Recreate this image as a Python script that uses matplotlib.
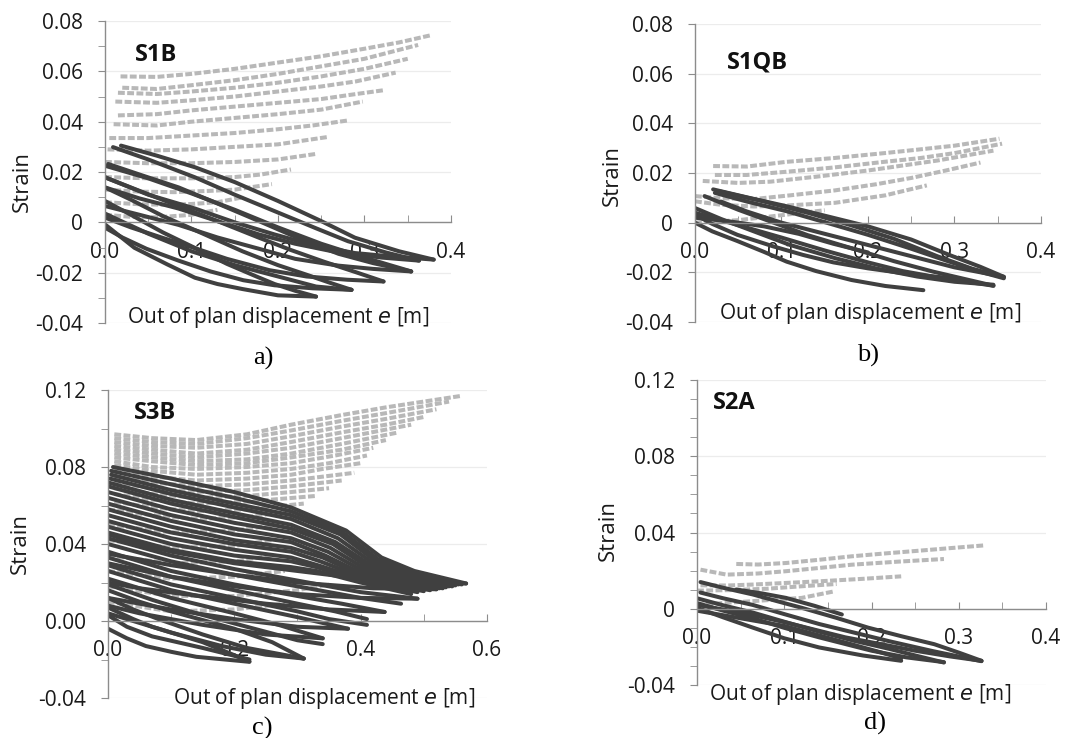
import matplotlib
matplotlib.use('Agg')
import matplotlib.pyplot as plt
from matplotlib.ticker import MultipleLocator, FixedLocator

# ---- S1B : strain vs out of plane displacement ----
s1b_gray = [
    [(0.018, 0.058), (0.06, 0.0578), (0.10, 0.059), (0.15, 0.061), (0.20, 0.0635), (0.25, 0.066), (0.30, 0.069), (0.34, 0.0715), (0.376, 0.0743)],
    [(0.020, 0.0535), (0.06, 0.053), (0.10, 0.0545), (0.15, 0.0565), (0.20, 0.059), (0.25, 0.062), (0.30, 0.065), (0.362, 0.0705)],
    [(0.015, 0.0515), (0.06, 0.051), (0.10, 0.052), (0.15, 0.0535), (0.20, 0.0555), (0.25, 0.058), (0.30, 0.061), (0.350, 0.065)],
    [(0.012, 0.048), (0.06, 0.0475), (0.10, 0.0485), (0.15, 0.050), (0.20, 0.052), (0.25, 0.054), (0.29, 0.056), (0.336, 0.0595)],
    [(0.015, 0.0425), (0.06, 0.043), (0.10, 0.0445), (0.15, 0.046), (0.20, 0.0475), (0.25, 0.049), (0.28, 0.0505), (0.322, 0.0525)],
    [(0.010, 0.039), (0.06, 0.0385), (0.10, 0.040), (0.15, 0.0415), (0.20, 0.043), (0.25, 0.0448), (0.298, 0.048)],
    [(0.005, 0.0335), (0.05, 0.0335), (0.10, 0.0345), (0.15, 0.0355), (0.20, 0.037), (0.24, 0.0385), (0.281, 0.0405)],
    [(0.003, 0.029), (0.05, 0.0285), (0.10, 0.029), (0.15, 0.030), (0.20, 0.031), (0.259, 0.034)],
    [(0.0, 0.024), (0.05, 0.0235), (0.10, 0.0235), (0.15, 0.024), (0.20, 0.025), (0.244, 0.0272)],
    [(0.0, 0.018), (0.05, 0.0175), (0.10, 0.0175), (0.15, 0.018), (0.18, 0.019), (0.215, 0.021)],
    [(0.0, 0.013), (0.04, 0.0122), (0.08, 0.012), (0.12, 0.0125), (0.15, 0.013), (0.193, 0.0152)],
    [(0.0, 0.008), (0.04, 0.0072), (0.07, 0.007), (0.10, 0.0073), (0.13, 0.008), (0.160, 0.010)],
    [(0.0, 0.003), (0.03, 0.0022), (0.06, 0.002), (0.10, 0.003), (0.130, 0.005)],
]
s1b_dark = [
    [(0.0185, 0.0305), (0.06, 0.0265), (0.104, 0.0219), (0.15, 0.016), (0.20, 0.0085), (0.25, 0.0005), (0.289, -0.0061), (0.34, -0.0115), (0.380, -0.0148)],
    [(0.0093, 0.0299), (0.05, 0.025), (0.104, 0.0179), (0.15, 0.011), (0.20, 0.0039), (0.245, -0.0025), (0.281, -0.0075), (0.325, -0.012), (0.363, -0.0152)],
    [(0.0037, 0.0232), (0.04, 0.019), (0.085, 0.0139), (0.13, 0.0075), (0.178, 0.0005), (0.225, -0.0065), (0.270, -0.0125), (0.31, -0.0162), (0.354, -0.0195)],
    [(0.0, 0.0179), (0.04, 0.0125), (0.085, 0.0065), (0.13, 0.0005), (0.178, -0.0061), (0.215, -0.011), (0.252, -0.0155), (0.29, -0.0198), (0.322, -0.0235)],
    [(0.0, 0.0139), (0.03, 0.009), (0.067, 0.0025), (0.11, -0.004), (0.159, -0.0115), (0.20, -0.017), (0.233, -0.0208), (0.26, -0.024), (0.285, -0.0268)],
    [(0.0, 0.0085), (0.03, 0.003), (0.067, -0.004), (0.10, -0.0095), (0.141, -0.0165), (0.175, -0.0215), (0.196, -0.0245), (0.22, -0.0272), (0.244, -0.0295)],
    [(0.0, 0.0225), (0.05, 0.0175), (0.10, 0.0115), (0.15, 0.005), (0.20, -0.002), (0.25, -0.0085), (0.30, -0.014), (0.354, -0.0195)],
    [(0.0, 0.0035), (0.05, -0.0045), (0.10, -0.0115), (0.15, -0.017), (0.20, -0.0215), (0.244, -0.0255), (0.285, -0.0268)],
    [(0.380, -0.0148), (0.33, -0.0135), (0.289, -0.0122), (0.24, -0.009), (0.196, -0.0048), (0.15, 0.0), (0.104, 0.0055), (0.05, 0.011), (0.0, 0.0179)],
    [(0.363, -0.0152), (0.32, -0.014), (0.270, -0.012), (0.22, -0.0085), (0.178, -0.0048), (0.13, 0.0005), (0.085, 0.0055), (0.04, 0.0095), (0.0, 0.0139)],
    [(0.354, -0.0195), (0.31, -0.0185), (0.270, -0.0172), (0.22, -0.0145), (0.178, -0.0105), (0.13, -0.006), (0.085, -0.001), (0.04, 0.003), (0.0, 0.0065)],
    [(0.322, -0.0235), (0.28, -0.0228), (0.233, -0.0215), (0.19, -0.019), (0.141, -0.0145), (0.10, -0.0098), (0.067, -0.0062), (0.03, -0.002), (0.0, 0.0019)],
    [(0.285, -0.0268), (0.24, -0.0262), (0.196, -0.025), (0.16, -0.023), (0.122, -0.0195), (0.085, -0.0152), (0.048, -0.0105), (0.02, -0.006), (0.0, -0.0021)],
    [(0.244, -0.0295), (0.20, -0.029), (0.159, -0.0265), (0.13, -0.0245), (0.104, -0.022), (0.072, -0.0167), (0.034, -0.0101), (0.0, -0.0008)],
]

# ---- S1QB ----
s1qb_gray = [
    [(0.021, 0.0228), (0.06, 0.0226), (0.106, 0.0245), (0.16, 0.026), (0.219, 0.028), (0.26, 0.0295), (0.300, 0.031), (0.352, 0.0338)],
    [(0.023, 0.0192), (0.06, 0.0192), (0.106, 0.0205), (0.16, 0.0222), (0.219, 0.0245), (0.26, 0.026), (0.300, 0.028), (0.355, 0.0318)],
    [(0.009, 0.0168), (0.05, 0.016), (0.087, 0.0165), (0.14, 0.0185), (0.200, 0.021), (0.24, 0.023), (0.280, 0.025), (0.345, 0.029)],
    [(0.0, 0.0107), (0.03, 0.0098), (0.068, 0.0095), (0.11, 0.011), (0.162, 0.013), (0.21, 0.0155), (0.250, 0.018), (0.290, 0.021), (0.330, 0.0242)],
    [(0.0, 0.0086), (0.03, 0.0072), (0.068, 0.0065), (0.11, 0.007), (0.162, 0.008), (0.220, 0.011), (0.268, 0.015)],
    [(0.0, 0.0), (0.05, 0.001), (0.10, 0.003), (0.150, 0.005)],
]
s1qb_dark = [
    [(0.021, 0.0134), (0.06, 0.0102), (0.106, 0.0066), (0.15, 0.0028), (0.200, -0.0015), (0.25, -0.0068), (0.294, -0.013), (0.33, -0.0178), (0.357, -0.0218)],
    [(0.023, 0.012), (0.06, 0.0085), (0.106, 0.0046), (0.15, 0.0002), (0.200, -0.0049), (0.25, -0.0105), (0.294, -0.0157), (0.33, -0.0198), (0.357, -0.0224)],
    [(0.030, 0.0125), (0.08, 0.0085), (0.13, 0.004), (0.18, -0.001), (0.23, -0.0065), (0.28, -0.0135), (0.32, -0.0185), (0.357, -0.022)],
    [(0.011, 0.0107), (0.05, 0.0052), (0.087, 0.0005), (0.13, -0.005), (0.181, -0.0103), (0.23, -0.0155), (0.275, -0.0197), (0.345, -0.0254)],
    [(0.0, 0.0059), (0.03, 0.0015), (0.068, -0.0035), (0.11, -0.009), (0.162, -0.0143), (0.21, -0.0185), (0.257, -0.0217), (0.30, -0.0238), (0.345, -0.025)],
    [(0.0, 0.0032), (0.02, -0.0005), (0.049, -0.0049), (0.09, -0.0095), (0.125, -0.013), (0.160, -0.016), (0.200, -0.0184), (0.250, -0.0208), (0.300, -0.0225)],
    [(0.0, 0.0), (0.02, -0.0035), (0.049, -0.0074), (0.08, -0.0118), (0.106, -0.0157), (0.14, -0.0195), (0.181, -0.0231), (0.22, -0.0255), (0.264, -0.0272)],
    [(0.357, -0.0218), (0.300, -0.018), (0.250, -0.0135), (0.200, -0.009), (0.150, -0.0045), (0.100, 0.0), (0.060, 0.0045), (0.030, 0.0085)],
    [(0.345, -0.0254), (0.280, -0.022), (0.240, -0.0195), (0.200, -0.016), (0.150, -0.0112), (0.100, -0.006), (0.050, -0.001), (0.0, 0.004)],
    [(0.0, 0.002), (0.04, 0.0005), (0.08, -0.0015), (0.12, -0.0045), (0.16, -0.0085), (0.20, -0.012)],
]

# ---- S3B ----
s3b_gray = [
    [(0.01, 0.097), (0.07, 0.095), (0.14, 0.094), (0.22, 0.097), (0.29, 0.102), (0.37, 0.107), (0.44, 0.111), (0.50, 0.114), (0.56, 0.117)],
    [(0.01, 0.095), (0.07, 0.093), (0.14, 0.092), (0.22, 0.095), (0.29, 0.099), (0.37, 0.104), (0.44, 0.108), (0.54, 0.114)],
    [(0.01, 0.093), (0.07, 0.091), (0.14, 0.090), (0.22, 0.092), (0.29, 0.096), (0.37, 0.101), (0.44, 0.105), (0.52, 0.110)],
    [(0.01, 0.091), (0.07, 0.089), (0.14, 0.087), (0.22, 0.089), (0.29, 0.093), (0.37, 0.098), (0.44, 0.102), (0.50, 0.106)],
    [(0.01, 0.089), (0.07, 0.087), (0.14, 0.085), (0.22, 0.087), (0.29, 0.090), (0.37, 0.095), (0.48, 0.102)],
    [(0.01, 0.087), (0.07, 0.085), (0.14, 0.083), (0.22, 0.084), (0.29, 0.087), (0.37, 0.092), (0.46, 0.098)],
    [(0.01, 0.085), (0.07, 0.083), (0.14, 0.081), (0.22, 0.082), (0.29, 0.085), (0.37, 0.089), (0.44, 0.094)],
    [(0.01, 0.083), (0.07, 0.080), (0.14, 0.079), (0.22, 0.080), (0.29, 0.082), (0.36, 0.086), (0.42, 0.090)],
    [(0.01, 0.081), (0.07, 0.078), (0.14, 0.076), (0.22, 0.077), (0.29, 0.079), (0.35, 0.082), (0.41, 0.086)],
    [(0.01, 0.078), (0.07, 0.075), (0.14, 0.073), (0.22, 0.074), (0.29, 0.076), (0.34, 0.079), (0.40, 0.082)],
    [(0.01, 0.075), (0.07, 0.072), (0.14, 0.070), (0.22, 0.071), (0.29, 0.073), (0.39, 0.077)],
    [(0.01, 0.072), (0.07, 0.069), (0.14, 0.067), (0.22, 0.068), (0.29, 0.070), (0.37, 0.073)],
    [(0.01, 0.069), (0.07, 0.066), (0.14, 0.064), (0.22, 0.065), (0.29, 0.067), (0.35, 0.069)],
    [(0.01, 0.066), (0.07, 0.063), (0.14, 0.061), (0.22, 0.062), (0.33, 0.065)],
    [(0.01, 0.062), (0.07, 0.059), (0.14, 0.057), (0.22, 0.058), (0.31, 0.061)],
    [(0.0, 0.058), (0.07, 0.055), (0.14, 0.053), (0.22, 0.054), (0.29, 0.057)],
    [(0.0, 0.050), (0.10, 0.046), (0.20, 0.047), (0.27, 0.050)],
    [(0.0, 0.042), (0.10, 0.038), (0.20, 0.039), (0.26, 0.042)],
    [(0.0, 0.034), (0.10, 0.030), (0.20, 0.031), (0.26, 0.034)],
    [(0.0, 0.026), (0.10, 0.022), (0.20, 0.023), (0.28, 0.026)],
    [(0.0, 0.018), (0.10, 0.013), (0.20, 0.013), (0.30, 0.016), (0.35, 0.019)],
    [(0.0, 0.010), (0.10, 0.005), (0.20, 0.006), (0.28, 0.009)],
]
s3b_dark = [
    [(0.008, 0.080), (0.10, 0.074), (0.20, 0.067), (0.29, 0.059), (0.377, 0.047), (0.433, 0.033), (0.485, 0.026), (0.567, 0.0195)],
    [(0.005, 0.078), (0.10, 0.071), (0.20, 0.064), (0.29, 0.057), (0.372, 0.046), (0.428, 0.032), (0.48, 0.025), (0.560, 0.019)],
    [(0.005, 0.076), (0.10, 0.068), (0.20, 0.061), (0.29, 0.055), (0.368, 0.045), (0.424, 0.031), (0.48, 0.024), (0.555, 0.019)],
    [(0.003, 0.074), (0.10, 0.066), (0.20, 0.059), (0.29, 0.053), (0.364, 0.043), (0.420, 0.030), (0.475, 0.023), (0.550, 0.0185)],
    [(0.0, 0.072), (0.10, 0.063), (0.20, 0.056), (0.29, 0.050), (0.360, 0.041), (0.416, 0.029), (0.475, 0.023), (0.545, 0.018)],
    [(0.0, 0.070), (0.10, 0.061), (0.20, 0.054), (0.29, 0.048), (0.356, 0.040), (0.412, 0.028), (0.47, 0.022), (0.540, 0.018)],
    [(0.0, 0.067), (0.10, 0.058), (0.20, 0.051), (0.29, 0.046), (0.352, 0.038), (0.408, 0.027), (0.47, 0.021), (0.535, 0.0175)],
    [(0.0, 0.064), (0.10, 0.055), (0.20, 0.048), (0.29, 0.043), (0.348, 0.036), (0.404, 0.026), (0.465, 0.021), (0.530, 0.017)],
    [(0.0, 0.061), (0.10, 0.052), (0.20, 0.045), (0.29, 0.041), (0.344, 0.034), (0.400, 0.025), (0.46, 0.020), (0.525, 0.017)],
    [(0.0, 0.058), (0.10, 0.049), (0.20, 0.042), (0.29, 0.038), (0.340, 0.033), (0.400, 0.024), (0.520, 0.0165)],
    [(0.0, 0.055), (0.10, 0.046), (0.20, 0.040), (0.29, 0.036), (0.336, 0.031), (0.400, 0.023), (0.510, 0.016)],
    [(0.0, 0.052), (0.10, 0.043), (0.20, 0.037), (0.29, 0.033), (0.332, 0.029), (0.400, 0.022), (0.500, 0.0155)],
    [(0.0, 0.049), (0.10, 0.040), (0.20, 0.034), (0.29, 0.031), (0.330, 0.028), (0.400, 0.021), (0.490, 0.015)],
    [(0.0, 0.046), (0.10, 0.037), (0.20, 0.031), (0.29, 0.028), (0.330, 0.026), (0.400, 0.020), (0.480, 0.014)],
    [(0.0, 0.043), (0.10, 0.034), (0.20, 0.027), (0.30, 0.021), (0.40, 0.015), (0.490, 0.0116)],
    [(0.0, 0.040), (0.10, 0.031), (0.20, 0.024), (0.30, 0.018), (0.40, 0.012), (0.464, 0.009)],
    [(0.0, 0.036), (0.10, 0.026), (0.20, 0.019), (0.30, 0.013), (0.37, 0.009), (0.438, 0.0047)],
    [(0.0, 0.033), (0.10, 0.023), (0.20, 0.016), (0.30, 0.009), (0.36, 0.005), (0.410, 0.001)],
    [(0.0, 0.029), (0.10, 0.019), (0.20, 0.012), (0.30, 0.005), (0.350, 0.001), (0.410, -0.002)],
    [(0.0, 0.026), (0.10, 0.016), (0.20, 0.009), (0.30, 0.002), (0.380, -0.004)],
    [(0.0, 0.022), (0.10, 0.012), (0.20, 0.004), (0.27, -0.002), (0.340, -0.009)],
    [(0.0, 0.019), (0.07, 0.011), (0.14, 0.004), (0.22, -0.003), (0.30, -0.010), (0.340, -0.012)],
    [(0.0, 0.016), (0.05, 0.010), (0.10, 0.005), (0.20, -0.004), (0.26, -0.011), (0.310, -0.0195)],
    [(0.0, 0.012), (0.04, 0.006), (0.08, 0.001), (0.15, -0.007), (0.22, -0.014), (0.310, -0.0195)],
    [(0.0, 0.007), (0.04, 0.001), (0.07, -0.003), (0.15, -0.011), (0.224, -0.021)],
    [(0.0, 0.003), (0.03, -0.003), (0.07, -0.008), (0.15, -0.014), (0.224, -0.020)],
    [(0.0, -0.004), (0.03, -0.009), (0.06, -0.013), (0.10, -0.016), (0.14, -0.0186), (0.224, -0.0212)],
    [(0.567, 0.0195), (0.50, 0.0195), (0.45, 0.020), (0.35, 0.024), (0.20, 0.030), (0.10, 0.036), (0.05, 0.040), (0.0, 0.045)],
    [(0.52, 0.0165), (0.42, 0.017), (0.30, 0.020), (0.20, 0.024), (0.10, 0.029), (0.05, 0.032), (0.0, 0.035)],
    [(0.49, 0.0116), (0.40, 0.012), (0.30, 0.014), (0.20, 0.018), (0.10, 0.023), (0.0, 0.030)],
    [(0.438, 0.0047), (0.35, 0.006), (0.25, 0.009), (0.12, 0.014), (0.05, 0.017), (0.0, 0.020)],
    [(0.38, -0.004), (0.30, -0.003), (0.20, 0.001), (0.10, 0.006), (0.0, 0.012)],
    [(0.34, -0.009), (0.25, -0.007), (0.15, -0.002), (0.05, 0.004), (0.0, 0.008)],
    [(0.31, -0.0195), (0.25, -0.0175), (0.18, -0.013), (0.10, -0.006), (0.04, 0.0), (0.0, 0.004)],
]

# ---- S2A ----
s2a_gray = [
    [(0.045, 0.0235), (0.07, 0.0232), (0.102, 0.024), (0.14, 0.0257), (0.177, 0.0275), (0.215, 0.029), (0.253, 0.0304), (0.29, 0.0318), (0.328, 0.0332)],
    [(0.004, 0.0205), (0.034, 0.0179), (0.07, 0.0185), (0.102, 0.0197), (0.14, 0.0214), (0.177, 0.0231), (0.23, 0.0247), (0.283, 0.0261)],
    [(0.004, 0.0123), (0.035, 0.0122), (0.064, 0.0127), (0.10, 0.0135), (0.140, 0.0144), (0.19, 0.0157), (0.234, 0.017)],
    [(0.0, 0.0095), (0.04, 0.0098), (0.08, 0.0105), (0.12, 0.0118), (0.16, 0.013)],
    [(0.0, 0.002), (0.03, 0.003), (0.064, 0.004), (0.09, 0.0048), (0.120, 0.0057), (0.158, 0.0092)],
]
s2a_dark = [
    [(0.004, 0.014), (0.03, 0.011), (0.064, 0.0075), (0.09, 0.0042), (0.120, 0.0005), (0.16, -0.0048), (0.196, -0.0099), (0.235, -0.0145), (0.272, -0.0186), (0.30, -0.023), (0.326, -0.0273)],
    [(0.045, 0.0101), (0.075, 0.008), (0.102, 0.0057), (0.135, 0.0015), (0.166, -0.003)],
    [(0.004, 0.0085), (0.03, 0.0055), (0.064, 0.002), (0.10, -0.0028), (0.140, -0.008), (0.18, -0.0125), (0.220, -0.017), (0.27, -0.0222), (0.326, -0.0275)],
    [(0.0, 0.0055), (0.03, 0.0018), (0.064, -0.002), (0.10, -0.0068), (0.140, -0.012), (0.18, -0.0168), (0.220, -0.021), (0.25, -0.0245), (0.283, -0.0282)],
    [(0.0, 0.003), (0.03, -0.001), (0.064, -0.005), (0.10, -0.010), (0.140, -0.015), (0.17, -0.0185), (0.200, -0.022), (0.24, -0.0255), (0.283, -0.028)],
    [(0.0, 0.0005), (0.03, -0.0045), (0.064, -0.0099), (0.10, -0.0155), (0.140, -0.0203), (0.19, -0.0245), (0.234, -0.0273)],
    [(0.0, -0.001), (0.050, -0.005), (0.100, -0.009), (0.14, -0.014), (0.180, -0.019), (0.21, -0.0228), (0.234, -0.026)],
    [(0.326, -0.0273), (0.29, -0.025), (0.250, -0.022), (0.21, -0.0185), (0.170, -0.015), (0.135, -0.011), (0.100, -0.007), (0.05, -0.002), (0.0, 0.002)],
]

panels = [
    # name, gray, dark, xmax, x major, x minor, ymax, y major, y minor, y tick text,
    # axes rect, title pos, x label pos, y label pos
    ('S1B', s1b_gray, s1b_dark, 0.4, 0.1, 0.05, 0.08, 0.02, 0.01,
     ['-0.04', '-0.02', '0', '0.02', '0.04', '0.06', '0.08'],
     [0.0981, 0.5623, 0.3234, 0.4092], (0.147, 0.887), (0.50, 0.017), (-0.24, 0.47)),
    ('S1QB', s1qb_gray, s1qb_dark, 0.4, 0.1, 0.05, 0.08, 0.02, None,
     ['-0.04', '-0.02', '0', '0.02', '0.04', '0.06', '0.08'],
     [0.6495, 0.5637, 0.3234, 0.4038], (0.182, 0.872), (0.506, 0.03), (-0.24, 0.49)),
    ('S3B', s3b_gray, s3b_dark, 0.6, 0.2, 0.1, 0.12, 0.04, 0.02,
     ['-0.04', '0.00', '0.04', '0.08', '0.12'],
     [0.1009, 0.0542, 0.3542, 0.4173], (0.124, 0.925), (0.57, 0.0), (-0.232, 0.503)),
    ('S2A', s2a_gray, s2a_dark, 0.4, 0.1, 0.05, 0.12, 0.04, 0.01,
     ['-0.04', '0', '0.04', '0.08', '0.12'],
     [0.6514, 0.0718, 0.3262, 0.4133], (0.106, 0.925), (0.467, -0.03), (-0.255, 0.508)),
]
captions = [('a)', 263, 358), ('b)', 868, 355), ('c)', 262, 728), ('d)', 875, 723)]

plt.rcParams['font.family'] = ['Open Sans', 'DejaVu Sans']
fig = plt.figure(figsize=(10.7, 7.38), dpi=100)
axis_col = '#8c8c8c'
text_col = '#1a1a1a'

for (name, gray, dark, xmax, xmaj, xmin, ymax, ymaj, ymin, ylabels,
     rect, tpos, xlpos, ylpos) in panels:
    ax = fig.add_axes(rect)
    for curve in gray:
        xs, ys = zip(*curve)
        ax.plot(xs, ys, color='#b8b8b8', lw=2.9, ls=(0, (1.7, 0.6)),
                dash_capstyle='butt', solid_joinstyle='round')
    for curve in dark:
        xs, ys = zip(*curve)
        ax.plot(xs, ys, color='#404040', lw=2.9, solid_joinstyle='round',
                solid_capstyle='round')

    ax.set_xlim(0, xmax)
    ax.set_ylim(-0.04, ymax)
    ax.spines['top'].set_visible(False)
    ax.spines['right'].set_visible(False)
    ax.spines['bottom'].set_position(('data', 0))
    for s in ('left', 'bottom'):
        ax.spines[s].set_color(axis_col)
        ax.spines[s].set_linewidth(1.0)

    ax.xaxis.set_major_locator(MultipleLocator(xmaj))
    ax.xaxis.set_minor_locator(MultipleLocator(xmin))
    ax.xaxis.set_major_formatter(plt.FormatStrFormatter('%.1f'))
    yt = [-0.04 + i * ymaj for i in range(len(ylabels))]
    ax.yaxis.set_major_locator(FixedLocator(yt))
    ax.set_yticklabels(ylabels)
    if ymin:
        ax.yaxis.set_minor_locator(MultipleLocator(ymin))

    ax.tick_params(axis='x', which='both', direction='in', length=5, color=axis_col,
                   pad=14, labelsize=15, labelcolor=text_col)
    ax.tick_params(axis='y', which='both', direction='out', length=5, color=axis_col,
                   pad=11, labelsize=15, labelcolor=text_col)
    ax.grid(axis='y', which='major', color='#ececec', lw=0.9)
    ax.set_axisbelow(True)

    ax.text(tpos[0], tpos[1], name, transform=ax.transAxes, fontsize=17,
            fontweight='bold', ha='center', va='center', color='#111111')
    ax.text(xlpos[0], xlpos[1], 'Out of plan displacement $\\it{e}$ [m]',
            transform=ax.transAxes, fontsize=15, ha='center', va='center', color=text_col)
    ax.set_ylabel('Strain', fontsize=16, color=text_col, va='center')
    ax.yaxis.set_label_coords(ylpos[0], ylpos[1])

for text, px, py in captions:
    fig.text(px / 1070, 1 - py / 738, text, fontsize=19, family='Liberation Serif',
             ha='center', va='center')

fig.savefig('out.png', dpi=100)
